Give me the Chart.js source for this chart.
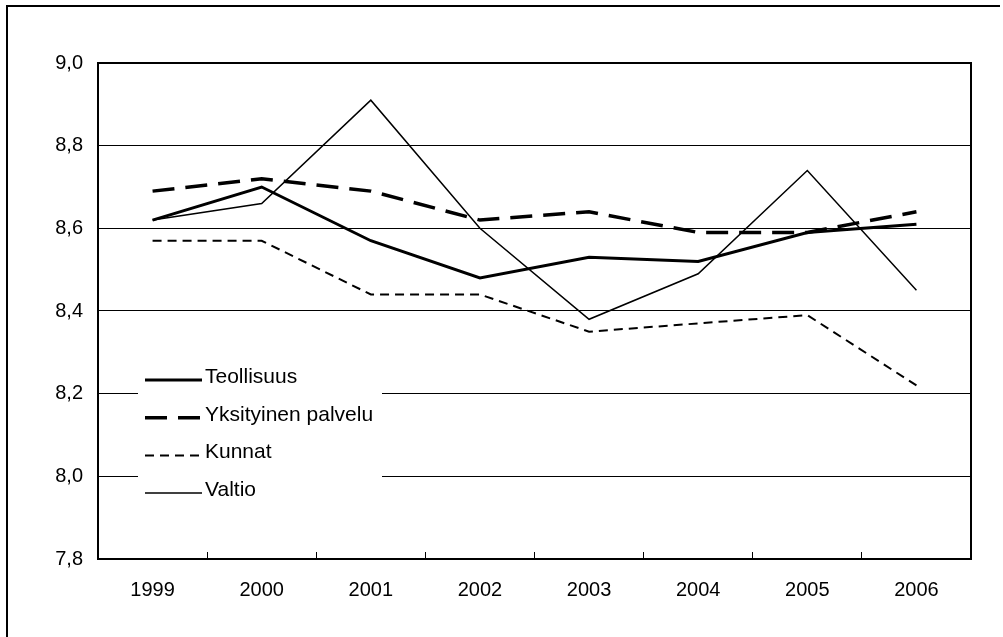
<!DOCTYPE html>
<html>
<head>
<meta charset="utf-8">
<script src="https://cdn.jsdelivr.net/npm/chart.js@4/dist/chart.umd.min.js"></script>
<style>
  body { margin: 0; background: #fff; }
  #wrap { position: relative; width: 1003px; height: 637px; overflow: hidden; }
  #frame { position: absolute; left: 6px; top: 5px; width: 992px; height: 640px;
           border-top: 2px solid #000; border-left: 2px solid #000; }
  #chart { position: absolute; left: 0; top: 0; }
</style>
</head>
<body>
<div id="wrap">
  <div id="frame"></div>
  <canvas id="chart" width="1003" height="637"></canvas>
</div>
<script>
// Tiedot
const years = ['1999', '2000', '2001', '2002', '2003', '2004', '2005', '2006'];
const seriesNames = ['Teollisuus', 'Yksityinen palvelu', 'Kunnat', 'Valtio'];
const teollisuus = [8.62, 8.70, 8.57, 8.48, 8.53, 8.52, 8.59, 8.61];
const yksityinen = [8.69, 8.72, 8.69, 8.62, 8.64, 8.59, 8.59, 8.64];
const kunnat     = [8.57, 8.57, 8.44, 8.44, 8.35, 8.37, 8.39, 8.22];
const valtio     = [8.62, 8.66, 8.91, 8.60, 8.38, 8.49, 8.74, 8.45];
const yTicks = [7.8, 8.0, 8.2, 8.4, 8.6, 8.8, 9.0];

const FONT = '"Liberation Sans", Arial, sans-serif';

// Kehys piirtoalueen ympärille (ylä- ja oikea reuna)
const framePlugin = {
    id: 'frame',
    beforeDatasetsDraw(chart) {
        const a = chart.chartArea;
        const ctx = chart.ctx;
        ctx.save();
        ctx.strokeStyle = '#000';
        ctx.lineWidth = 2;
        ctx.beginPath();
        ctx.moveTo(a.left, a.top);
        ctx.lineTo(a.right, a.top);
        ctx.lineTo(a.right, a.bottom);
        ctx.stroke();
        ctx.restore();
    }
};

// Selite kaavion sisällä
const legendPlugin = {
    id: 'boxLegend',
    afterDatasetsDraw(chart) {
        const ctx = chart.ctx;
        ctx.save();
        ctx.fillStyle = '#fff';
        ctx.fillRect(138, 356, 244, 156);
        chart.data.datasets.forEach((ds, i) => {
            const y = 380 + i * 37.7;
            ctx.strokeStyle = '#000';
            ctx.lineWidth = ds.borderWidth;
            ctx.setLineDash(ds.borderDash || []);
            ctx.beginPath();
            ctx.moveTo(145, y);
            ctx.lineTo(202, y);
            ctx.stroke();
            ctx.setLineDash([]);
            ctx.fillStyle = '#000';
            ctx.font = '21px ' + FONT;
            ctx.textBaseline = 'alphabetic';
            ctx.textAlign = 'left';
            ctx.fillText(ds.label, 205, y + 3);
        });
        ctx.restore();
    }
};

const lineBase = { borderColor: '#000', pointRadius: 0, tension: 0, fill: false };

new Chart(document.getElementById('chart'), {
    type: 'line',
    data: {
        labels: years,
        datasets: [
            Object.assign({ label: seriesNames[0], data: teollisuus, borderWidth: 3 }, lineBase),
            Object.assign({ label: seriesNames[1], data: yksityinen, borderWidth: 3.5, borderDash: [22, 11] }, lineBase),
            Object.assign({ label: seriesNames[2], data: kunnat, borderWidth: 2, borderDash: [9, 6] }, lineBase),
            Object.assign({ label: seriesNames[3], data: valtio, borderWidth: 1.5 }, lineBase)
        ]
    },
    options: {
        responsive: false,
        animation: false,
        layout: { padding: { left: 0, top: 63, right: 32, bottom: 0 } },
        plugins: {
            legend: { display: false },
            tooltip: { enabled: false }
        },
        scales: {
            x: {
                offset: true,
                afterFit: s => { s.height = 78; },
                grid: { offset: true, drawOnChartArea: false, drawTicks: true, tickLength: -7, color: '#000', lineWidth: 1 },
                border: { display: true, color: '#000', width: 2 },
                ticks: { color: '#000', font: { family: FONT, size: 20 }, padding: 26, maxRotation: 0 }
            },
            y: {
                min: 7.8,
                max: 9.0,
                afterFit: s => { s.width = 98; },
                afterBuildTicks: s => { s.ticks = yTicks.map(v => ({ value: v })); },
                grid: { color: '#000', lineWidth: 1, drawTicks: false },
                border: { display: true, color: '#000', width: 2 },
                ticks: {
                    color: '#000',
                    font: { family: FONT, size: 20 },
                    padding: 15,
                    callback: v => Number(v).toFixed(1).replace('.', ',')
                }
            }
        }
    },
    plugins: [framePlugin, legendPlugin]
});
</script>
</body>
</html>
